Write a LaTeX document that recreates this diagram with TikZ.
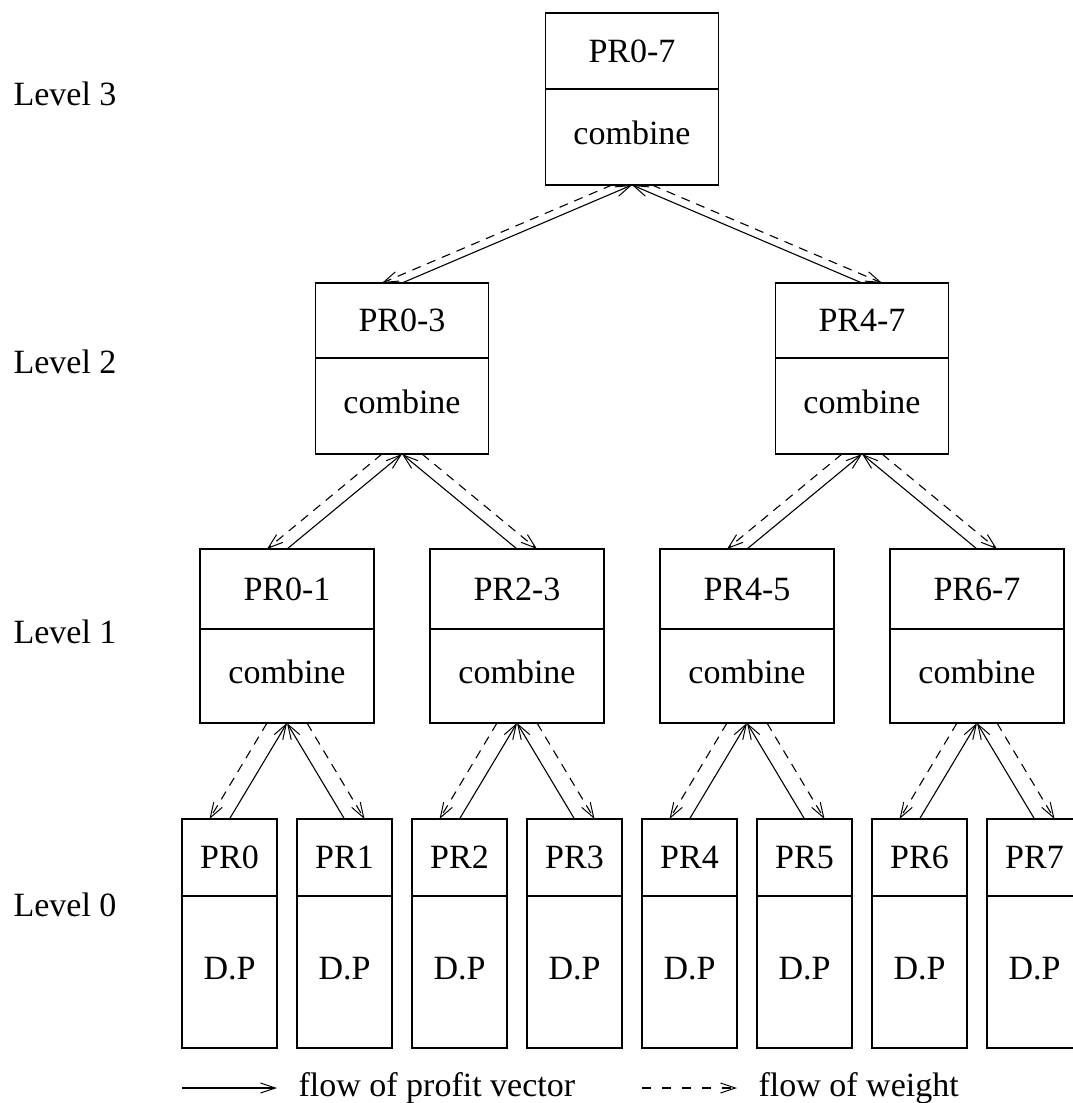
\documentclass[tikz,border=0pt]{standalone}
\usepackage{fontspec}
\setmainfont{Liberation Serif}
\usetikzlibrary{arrows.meta}

% Processor box: name, centre x, top, divider, bottom, width, upper text, lower text
\newcommand\pbox[8]{%
  \node[frame, minimum width=#6pt, minimum height={(#5-#3)*1pt}] (#1) at (#2,{(#3+#5)/2}) {};
  \draw ({#2-#6/2},#4) -- ({#2+#6/2},#4);
  \node[lbl] at (#2,{(#3+#4)/2+11}) {#7};
  \node[lbl] at (#2,{(#4+#5)/2+7}) {#8};
}

% Profit vectors go up to the parent, weights come down to the children
\newcommand\flows[3]{%
  \draw[profit] (#2.north) -- (#1.south);
  \draw[profit] (#3.north) -- (#1.south);
  \draw[weight] ([xshift=-20pt]#1.south) -- ([xshift=-20pt]#2.north);
  \draw[weight] ([xshift=20pt]#1.south) -- ([xshift=20pt]#3.north);
}

\begin{document}
\begin{tikzpicture}[x=1pt,y=-1pt,
  line width=1.1pt,
  font=\fontsize{34}{40}\selectfont,
  frame/.style={draw, line width=1.1pt, inner sep=0pt, outer sep=0pt},
  lbl/.style={anchor=base, inner sep=0pt},
  tip/.style={-{Straight Barb[length=15pt,width=10pt,line width=1pt]}},
  profit/.style={tip},
  weight/.style={tip, dash pattern=on 9pt off 7pt},
]
\useasboundingbox (0,0) rectangle (1073,1103);
\clip (0,0) rectangle (1073,1103);

% level labels
\node[inner sep=0pt, anchor=base west] (lv3) at (13,105) {Level 3};
\node[inner sep=0pt, anchor=base west] (lv2) at (13,373) {Level 2};
\node[inner sep=0pt, anchor=base west] (lv1) at (13,643) {Level 1};
\node[inner sep=0pt, anchor=base west] (lv0) at (13,916) {Level 0};

% level 3
\pbox{p07}{632}{13}{89}{185}{173}{PR0-7}{combine}
% level 2
\pbox{p03}{402}{283}{358}{454}{173}{PR0-3}{combine}
\pbox{p47}{862}{283}{358}{454}{173}{PR4-7}{combine}
% level 1
\pbox{p01}{287}{549}{629}{723}{174}{PR0-1}{combine}
\pbox{p23}{517}{549}{629}{723}{174}{PR2-3}{combine}
\pbox{p45}{747}{549}{629}{723}{174}{PR4-5}{combine}
\pbox{p67}{977}{549}{629}{723}{174}{PR6-7}{combine}
% level 0
\pbox{p0}{229.5}{819}{896}{1048}{95}{PR0}{D.P}
\pbox{p1}{344.5}{819}{896}{1048}{95}{PR1}{D.P}
\pbox{p2}{459.5}{819}{896}{1048}{95}{PR2}{D.P}
\pbox{p3}{574.5}{819}{896}{1048}{95}{PR3}{D.P}
\pbox{p4}{689.5}{819}{896}{1048}{95}{PR4}{D.P}
\pbox{p5}{804.5}{819}{896}{1048}{95}{PR5}{D.P}
\pbox{p6}{919.5}{819}{896}{1048}{95}{PR6}{D.P}
\pbox{p7}{1034.5}{819}{896}{1048}{95}{PR7}{D.P}

% connectors
\flows{p07}{p03}{p47}
\flows{p03}{p01}{p23}
\flows{p47}{p45}{p67}
\flows{p01}{p0}{p1}
\flows{p23}{p2}{p3}
\flows{p45}{p4}{p5}
\flows{p67}{p6}{p7}

% legend
\coordinate (la) at (182,1088);
\coordinate (lb) at (277,1088);
\coordinate (lc) at (642,1088);
\coordinate (ld) at (737,1088);
\draw[profit] (la) -- (lb);
\node[inner sep=0pt, anchor=base west] (lt1) at (298,1096) {flow of profit vector};
\draw[weight, dash pattern=on 9pt off 11pt] (lc) -- (ld);
\node[inner sep=0pt, anchor=base west] (lt2) at (758,1096) {flow of weight};
\end{tikzpicture}
\end{document}
